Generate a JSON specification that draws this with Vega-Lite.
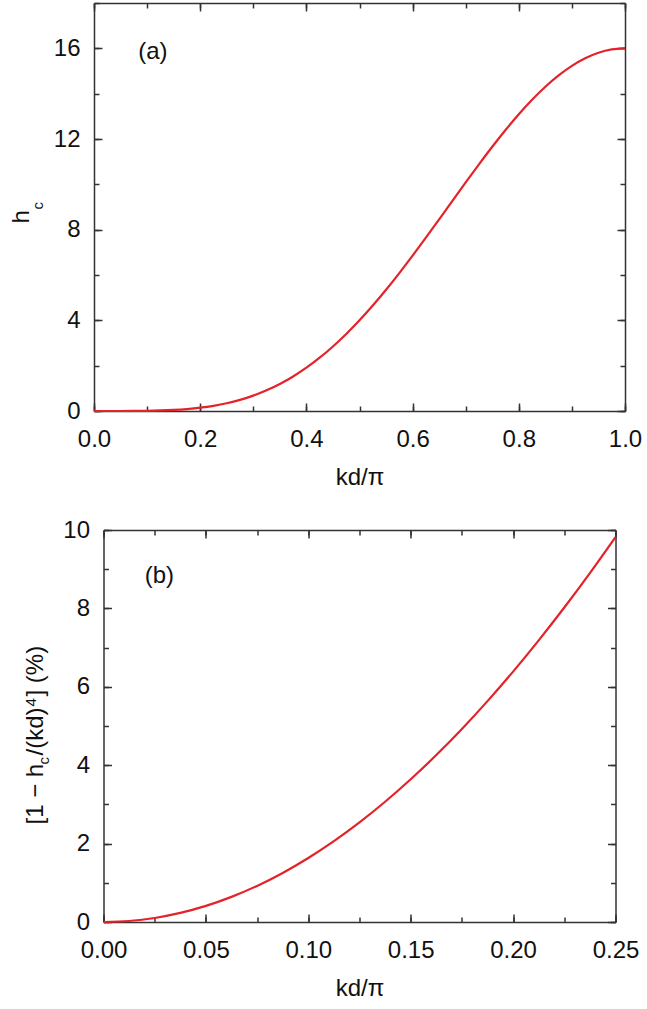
{
  "$schema": "https://vega.github.io/schema/vega-lite/v6.json",
  "padding": {"top": 2, "left": 9, "right": 5, "bottom": 5},
  "config": {
    "font": "Liberation Sans",
    "view": {"stroke": null},
    "axis": {
      "grid": false,
      "labelFlush": false,
      "domainColor": "#333333",
      "domainWidth": 1.5,
      "tickColor": "#333333",
      "tickWidth": 1.5,
      "labelFont": "Liberation Sans",
      "labelFontSize": 24,
      "labelColor": "#111111",
      "titleFont": "Liberation Sans",
      "titleFontSize": 24,
      "titleFontWeight": "normal",
      "titleColor": "#111111"
    }
  },
  "datasets": {
    "hc": [
      {"kd": 0, "h": 0}, {"kd": 0.025, "h": 0.00004}, {"kd": 0.05, "h": 0.0006}, {"kd": 0.075, "h": 0.0031},
      {"kd": 0.1, "h": 0.0096}, {"kd": 0.125, "h": 0.0232}, {"kd": 0.15, "h": 0.0475}, {"kd": 0.175, "h": 0.0869},
      {"kd": 0.2, "h": 0.1459}, {"kd": 0.225, "h": 0.2296}, {"kd": 0.25, "h": 0.3431}, {"kd": 0.275, "h": 0.4915},
      {"kd": 0.3, "h": 0.6797}, {"kd": 0.325, "h": 0.912}, {"kd": 0.35, "h": 1.1925}, {"kd": 0.375, "h": 1.5243},
      {"kd": 0.4, "h": 1.9098}, {"kd": 0.425, "h": 2.3504}, {"kd": 0.45, "h": 2.8464}, {"kd": 0.475, "h": 3.397},
      {"kd": 0.5, "h": 4}, {"kd": 0.525, "h": 4.6523}, {"kd": 0.55, "h": 5.3494}, {"kd": 0.575, "h": 6.0856},
      {"kd": 0.6, "h": 6.8541}, {"kd": 0.625, "h": 7.6473}, {"kd": 0.65, "h": 8.4564}, {"kd": 0.675, "h": 9.272},
      {"kd": 0.7, "h": 10.0843}, {"kd": 0.725, "h": 10.8827}, {"kd": 0.75, "h": 11.6569}, {"kd": 0.775, "h": 12.3961},
      {"kd": 0.8, "h": 13.0902}, {"kd": 0.825, "h": 13.7291}, {"kd": 0.85, "h": 14.3036}, {"kd": 0.875, "h": 14.8053},
      {"kd": 0.9, "h": 15.2265}, {"kd": 0.925, "h": 15.561}, {"kd": 0.95, "h": 15.8036}, {"kd": 0.975, "h": 15.9507},
      {"kd": 1, "h": 16}
    ],
    "dev": [
      {"kd": 0, "pct": 0}, {"kd": 0.0125, "pct": 0.0257}, {"kd": 0.025, "pct": 0.1028}, {"kd": 0.0375, "pct": 0.2311},
      {"kd": 0.05, "pct": 0.4105}, {"kd": 0.0625, "pct": 0.6407}, {"kd": 0.075, "pct": 0.9214}, {"kd": 0.0875, "pct": 1.2523},
      {"kd": 0.1, "pct": 1.6334}, {"kd": 0.1125, "pct": 2.0625}, {"kd": 0.125, "pct": 2.5407}, {"kd": 0.1375, "pct": 3.0668},
      {"kd": 0.15, "pct": 3.64}, {"kd": 0.1625, "pct": 4.2597}, {"kd": 0.175, "pct": 4.925}, {"kd": 0.1875, "pct": 5.635},
      {"kd": 0.2, "pct": 6.388}, {"kd": 0.2125, "pct": 7.185}, {"kd": 0.225, "pct": 8.022}, {"kd": 0.2375, "pct": 8.901},
      {"kd": 0.25, "pct": 9.818}
    ],
    "tagA": [{"kd": 0.111, "h": 15.85, "label": "(a)"}],
    "tagB": [{"kd": 0.0273, "pct": 8.83, "label": "(b)"}]
  },
  "bounds": "flush",
  "center": true,
  "spacing": 119,
  "vconcat": [
    {
      "width": 531,
      "height": 408,
      "data": {"name": "hc"},
      "resolve": {"axis": {"x": "independent", "y": "independent"}},
      "layer": [
        {
          "mark": {"type": "line", "color": "#e3222a", "strokeWidth": 2.2, "interpolate": "monotone"},
          "encoding": {
            "x": {"field": "kd", "type": "quantitative", "scale": {"domain": [0, 1], "nice": false, "zero": false},
              "axis": {"orient": "bottom", "values": [0, 0.2, 0.4, 0.6, 0.8, 1], "format": ".1f", "tickSize": -8, "labelPadding": 24, "title": "kd/π", "titlePadding": 14}},
            "y": {"field": "h", "type": "quantitative", "scale": {"domain": [0, 18], "nice": false, "zero": false},
              "axis": {"orient": "left", "values": [0, 4, 8, 12, 16], "tickSize": -8, "labelPadding": 22, "title": "h", "titleX": -66, "titleY": 220, "titleAngle": -90, "titleAlign": "left", "titleBaseline": "alphabetic"}}
          }
        },
        {
          "mark": {"type": "line", "opacity": 0},
          "encoding": {
            "x": {"field": "kd", "type": "quantitative", "axis": {"orient": "bottom", "values": [0, 0.1, 0.2, 0.3, 0.4, 0.5, 0.6, 0.7, 0.8, 0.9, 1], "tickSize": -5, "labels": false, "domain": false, "title": null}},
            "y": {"field": "h", "type": "quantitative", "axis": {"orient": "left", "values": [0, 2, 4, 6, 8, 10, 12, 14, 16, 18], "tickSize": -5, "labels": false, "domain": false, "title": null}}
          }
        },
        {
          "mark": {"type": "line", "opacity": 0},
          "encoding": {
            "x": {"field": "kd", "type": "quantitative", "axis": {"orient": "top", "values": [0, 0.2, 0.4, 0.6, 0.8, 1], "tickSize": -8, "labels": false, "title": null}},
            "y": {"field": "h", "type": "quantitative", "axis": {"orient": "right", "values": [0, 4, 8, 12, 16], "tickSize": -8, "labels": false, "title": null}}
          }
        },
        {
          "mark": {"type": "line", "opacity": 0},
          "encoding": {
            "x": {"field": "kd", "type": "quantitative", "axis": {"orient": "top", "values": [0, 0.1, 0.2, 0.3, 0.4, 0.5, 0.6, 0.7, 0.8, 0.9, 1], "tickSize": -5, "labels": false, "domain": false, "title": null}},
            "y": {"field": "h", "type": "quantitative", "axis": {"orient": "right", "values": [0, 2, 4, 6, 8, 10, 12, 14, 16, 18], "tickSize": -5, "labels": false, "domain": false, "title": null}}
          }
        },
        {
          "mark": {"type": "line", "opacity": 0},
          "encoding": {
            "x": {"field": "kd", "type": "quantitative", "axis": null},
            "y": {"field": "h", "type": "quantitative", "axis": {"orient": "left", "ticks": false, "labels": false, "domain": false, "title": "c", "titleFontSize": 15, "titleX": -52, "titleY": 206, "titleAngle": -90, "titleAlign": "left", "titleBaseline": "alphabetic"}}
          }
        },
        {
          "data": {"name": "tagA"},
          "mark": {"type": "text", "fontSize": 24, "color": "#111111", "baseline": "middle", "align": "center"},
          "encoding": {
            "x": {"field": "kd", "type": "quantitative", "axis": null},
            "y": {"field": "h", "type": "quantitative", "axis": null},
            "text": {"field": "label"}
          }
        }
      ]
    },
    {
      "width": 512,
      "height": 392,
      "data": {"name": "dev"},
      "resolve": {"axis": {"x": "independent", "y": "independent"}},
      "layer": [
        {
          "mark": {"type": "line", "color": "#e3222a", "strokeWidth": 2.2, "interpolate": "monotone"},
          "encoding": {
            "x": {"field": "kd", "type": "quantitative", "scale": {"domain": [0, 0.25], "nice": false, "zero": false},
              "axis": {"orient": "bottom", "values": [0, 0.05, 0.1, 0.15, 0.2, 0.25], "format": ".2f", "tickSize": -8, "labelPadding": 24, "title": "kd/π", "titlePadding": 14}},
            "y": {"field": "pct", "type": "quantitative", "scale": {"domain": [0, 10], "nice": false, "zero": false},
              "axis": {"orient": "left", "values": [0, 2, 4, 6, 8, 10], "tickSize": -8, "labelPadding": 22, "title": "[1 − h", "titleX": -61, "titleY": 294, "titleAngle": -90, "titleAlign": "left", "titleBaseline": "alphabetic"}}
          }
        },
        {
          "mark": {"type": "line", "opacity": 0},
          "encoding": {
            "x": {"field": "kd", "type": "quantitative", "axis": {"orient": "bottom", "values": [0, 0.025, 0.05, 0.075, 0.1, 0.125, 0.15, 0.175, 0.2, 0.225, 0.25], "tickSize": -5, "labels": false, "domain": false, "title": null}},
            "y": {"field": "pct", "type": "quantitative", "axis": {"orient": "left", "values": [0, 1, 2, 3, 4, 5, 6, 7, 8, 9, 10], "tickSize": -5, "labels": false, "domain": false, "title": null}}
          }
        },
        {
          "mark": {"type": "line", "opacity": 0},
          "encoding": {
            "x": {"field": "kd", "type": "quantitative", "axis": {"orient": "top", "values": [0, 0.05, 0.1, 0.15, 0.2, 0.25], "tickSize": -8, "labels": false, "title": null}},
            "y": {"field": "pct", "type": "quantitative", "axis": {"orient": "right", "values": [0, 2, 4, 6, 8, 10], "tickSize": -8, "labels": false, "title": null}}
          }
        },
        {
          "mark": {"type": "line", "opacity": 0},
          "encoding": {
            "x": {"field": "kd", "type": "quantitative", "axis": {"orient": "top", "values": [0, 0.025, 0.05, 0.075, 0.1, 0.125, 0.15, 0.175, 0.2, 0.225, 0.25], "tickSize": -5, "labels": false, "domain": false, "title": null}},
            "y": {"field": "pct", "type": "quantitative", "axis": {"orient": "right", "values": [0, 1, 2, 3, 4, 5, 6, 7, 8, 9, 10], "tickSize": -5, "labels": false, "domain": false, "title": null}}
          }
        },
        {
          "mark": {"type": "line", "opacity": 0},
          "encoding": {
            "x": {"field": "kd", "type": "quantitative", "axis": null},
            "y": {"field": "pct", "type": "quantitative", "axis": {"orient": "left", "ticks": false, "labels": false, "domain": false, "title": "c", "titleFontSize": 15, "titleX": -55, "titleY": 234, "titleAngle": -90, "titleAlign": "left", "titleBaseline": "alphabetic"}}
          }
        },
        {
          "mark": {"type": "line", "opacity": 0},
          "encoding": {
            "x": {"field": "kd", "type": "quantitative", "axis": null},
            "y": {"field": "pct", "type": "quantitative", "axis": {"orient": "left", "ticks": false, "labels": false, "domain": false, "title": "/(kd)", "titleX": -61, "titleY": 225, "titleAngle": -90, "titleAlign": "left", "titleBaseline": "alphabetic"}}
          }
        },
        {
          "mark": {"type": "line", "opacity": 0},
          "encoding": {
            "x": {"field": "kd", "type": "quantitative", "axis": null},
            "y": {"field": "pct", "type": "quantitative", "axis": {"orient": "left", "ticks": false, "labels": false, "domain": false, "title": "4", "titleFontSize": 15, "titleX": -68, "titleY": 176, "titleAngle": -90, "titleAlign": "left", "titleBaseline": "alphabetic"}}
          }
        },
        {
          "mark": {"type": "line", "opacity": 0},
          "encoding": {
            "x": {"field": "kd", "type": "quantitative", "axis": null},
            "y": {"field": "pct", "type": "quantitative", "axis": {"orient": "left", "ticks": false, "labels": false, "domain": false, "title": "] (%)", "titleX": -61, "titleY": 166, "titleAngle": -90, "titleAlign": "left", "titleBaseline": "alphabetic"}}
          }
        },
        {
          "data": {"name": "tagB"},
          "mark": {"type": "text", "fontSize": 24, "color": "#111111", "baseline": "middle", "align": "center"},
          "encoding": {
            "x": {"field": "kd", "type": "quantitative", "axis": null},
            "y": {"field": "pct", "type": "quantitative", "axis": null},
            "text": {"field": "label"}
          }
        }
      ]
    }
  ]
}
